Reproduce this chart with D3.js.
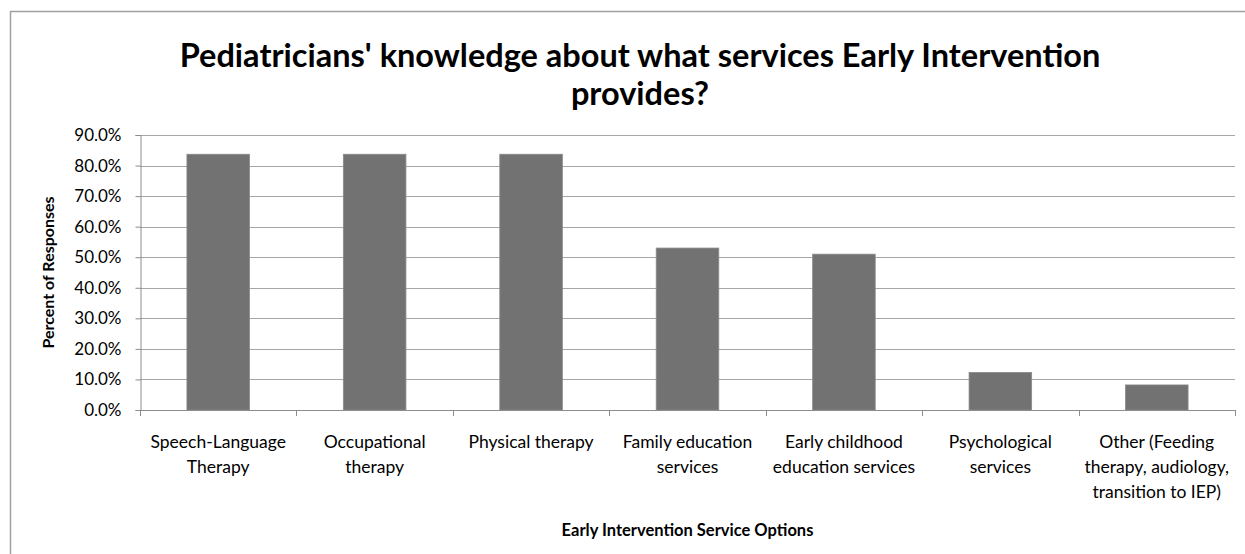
<!DOCTYPE html>
<html>
<head>
<meta charset="utf-8">
<script src="https://cdn.jsdelivr.net/npm/d3@7"></script>
<style>
  body { margin: 0; background: #fff; }
  text { font-family: Lato, "Open Sans", sans-serif; fill: #000; }
</style>
</head>
<body>
<svg id="chart"></svg>
<script>
var categories = [
  "Speech-Language\nTherapy",
  "Occupational\ntherapy",
  "Physical therapy",
  "Family education\nservices",
  "Early childhood\neducation services",
  "Psychological\nservices",
  "Other (Feeding\ntherapy, audiology,\ntransition to IEP)"
];
var percents = [83.7, 83.7, 83.7, 53.0, 51.0, 12.3, 8.2];
var yTicks = [0, 10, 20, 30, 40, 50, 60, 70, 80, 90];

var svgWidth = 1245;
var svgHeight = 554;

var svg = d3.select('#chart')
  .attr('width', svgWidth)
  .attr('height', svgHeight);

// chart frame
svg.append('rect')
  .attr('x', 10.5).attr('y', 11.5)
  .attr('width', 1250).attr('height', 600)
  .attr('fill', 'none')
  .attr('stroke', '#a0a0a0')
  .attr('stroke-width', 1.5);

var plotLeft = 140, plotRight = 1235, plotTop = 135, plotBottom = 410;

var xScale = d3.scaleBand()
  .domain(categories)
  .range([plotLeft, plotRight])
  .paddingInner(0)
  .paddingOuter(0);

var yScale = d3.scaleLinear()
  .domain([0, 90])
  .range([plotBottom, plotTop]);

// gridlines
svg.append('g')
  .selectAll('line')
  .data(yTicks.slice(1))
  .enter().append('line')
    .attr('x1', plotLeft).attr('x2', plotRight)
    .attr('y1', function(d) { return Math.round(yScale(d)) + 0.5; })
    .attr('y2', function(d) { return Math.round(yScale(d)) + 0.5; })
    .attr('stroke', '#a6a6a6')
    .attr('stroke-width', 1);

// bars
var barW = xScale.bandwidth() / 2.5;
svg.append('g')
  .selectAll('rect')
  .data(percents)
  .enter().append('rect')
    .attr('x', function(d, i) { return xScale(categories[i]) + (xScale.bandwidth() - barW) / 2; })
    .attr('y', function(d) { return yScale(d); })
    .attr('width', barW)
    .attr('height', function(d) { return plotBottom - yScale(d); })
    .attr('fill', '#727272')
    .attr('stroke', '#8a8a8a')
    .attr('stroke-width', 0.8);

// y axis
var yAxis = d3.axisLeft(yScale)
  .tickValues(yTicks)
  .tickSize(5)
  .tickPadding(14)
  .tickFormat(function(d) { return d.toFixed(1) + '%'; });

var yG = svg.append('g')
  .attr('transform', 'translate(' + (plotLeft + 0.5) + ',0)')
  .call(yAxis);
yG.select('.domain').attr('stroke', '#8c8c8c');
yG.selectAll('.tick line').attr('stroke', '#8c8c8c');
yG.selectAll('.tick text')
  .attr('font-size', 17)
  .attr('fill', '#000')
  .style('font-family', 'Lato, sans-serif');

// x axis with ticks at band boundaries
var xG = svg.append('g');
xG.append('line')
  .attr('x1', plotLeft).attr('x2', plotRight)
  .attr('y1', plotBottom + 0.5).attr('y2', plotBottom + 0.5)
  .attr('stroke', '#8c8c8c');
var boundaries = categories.map(function(c) { return xScale(c); }).concat([plotRight]);
xG.selectAll('line.tk')
  .data(boundaries)
  .enter().append('line')
    .attr('class', 'tk')
    .attr('x1', function(d) { return Math.round(d) + 0.5; })
    .attr('x2', function(d) { return Math.round(d) + 0.5; })
    .attr('y1', plotBottom).attr('y2', plotBottom + 6)
    .attr('stroke', '#8c8c8c');

var labels = xG.selectAll('text.cat')
  .data(categories)
  .enter().append('text')
    .attr('class', 'cat')
    .attr('text-anchor', 'middle')
    .attr('font-size', 17.5)
    .attr('x', function(d) { return xScale(d) + xScale.bandwidth() / 2; })
    .attr('y', 448);
labels.selectAll('tspan')
  .data(function(d) { return d.split('\n'); })
  .enter().append('tspan')
    .attr('x', function() { return d3.select(this.parentNode).attr('x'); })
    .attr('dy', function(d, i) { return i == 0 ? 0 : 25; })
    .text(function(d) { return d; });

// title
var title = svg.append('text')
  .attr('text-anchor', 'middle')
  .attr('font-size', 32.5)
  .attr('font-weight', 'bold')
  .attr('x', 640)
  .attr('y', 67);
title.append('tspan').attr('x', 640).attr('dy', 0)
  .text("Pediatricians' knowledge about what services Early Intervention");
title.append('tspan').attr('x', 640).attr('dy', 38)
  .text('provides?');

// axis titles
svg.append('text')
  .attr('text-anchor', 'middle')
  .attr('font-size', 16.5)
  .attr('font-weight', 'bold')
  .attr('x', (plotLeft + plotRight) / 2)
  .attr('y', 536)
  .text('Early Intervention Service Options');

svg.append('text')
  .attr('text-anchor', 'middle')
  .attr('font-size', 16)
  .attr('font-weight', 'bold')
  .attr('transform', 'translate(54,' + ((plotTop + plotBottom) / 2) + ') rotate(-90)')
  .text('Percent of Responses');
</script>
</body>
</html>
